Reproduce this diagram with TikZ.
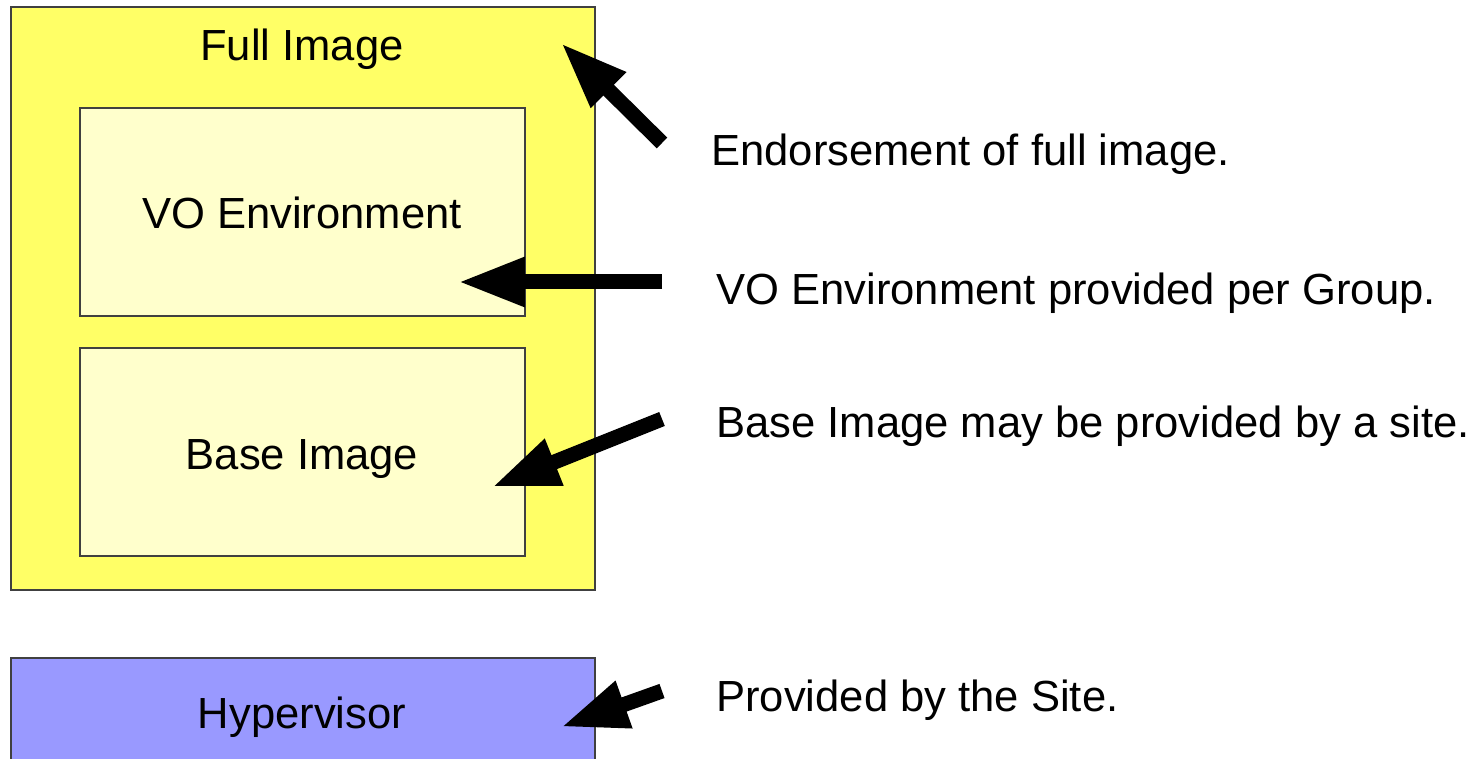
\documentclass[tikz,border=0pt]{standalone}
\usepackage{fontspec}
\setmainfont{Liberation Sans}
\usetikzlibrary{arrows.meta}

\definecolor{fullyellow}{HTML}{FFFF66}
\definecolor{paleyellow}{HTML}{FFFFCC}
\definecolor{hyperblue}{HTML}{9999FF}

\tikzset{
    layer/.style={draw=black!75, line width=0.03cm},
    lbl/.style={inner sep=0pt, font=\fontsize{24.8}{30}\selectfont},
    pointer/.style={line width=0.3cm, -{Triangle[length=1.34cm, width=0.92cm]}}
}

\begin{document}
\begin{tikzpicture}[x=0.02cm, y=-0.02cm]
    \useasboundingbox (0,0) rectangle (1474,759);
    \filldraw[layer, fill=fullyellow] (11,7) rectangle (595,590);
    \filldraw[layer, fill=paleyellow] (80,108) rectangle (525,316);
    \filldraw[layer, fill=paleyellow] (80,348) rectangle (525,556);
    \filldraw[layer, fill=hyperblue] (11,658) rectangle (595,764);

    \node[lbl, anchor=base] (full) at (302,61) {Full Image};
    \node[lbl, anchor=base] (voenv) at (302,229) {VO Environment};
    \node[lbl, anchor=base] (base) at (302,470) {Base Image};
    \node[lbl, anchor=base] (hyper) at (302,728) {Hypervisor};

    \node[lbl, anchor=base west] (endorse) at (711,166) {Endorsement of full image.};
    \node[lbl, anchor=base west] (pergroup) at (716,305) {VO Environment provided per Group.};
    \node[lbl, anchor=base west] (bysite) at (716,438) {Base Image may be provided by a site.};
    \node[lbl, anchor=base west] (thesite) at (716,711) {Provided by the Site.};

    \coordinate (E1) at (662,143);
    \coordinate (T1) at (561,43);
    \coordinate (E2) at (662,282);
    \coordinate (T2) at (458,282);
    \coordinate (E3) at (662,419);
    \coordinate (T3) at (492,487);
    \coordinate (E4) at (662,691);
    \coordinate (T4) at (561,727);
    \draw[pointer] (E1) -- (T1);
    \draw[pointer] (E2) -- (T2);
    \draw[pointer] (E3) -- (T3);
    \draw[pointer] (E4) -- (T4);
\end{tikzpicture}
\end{document}
